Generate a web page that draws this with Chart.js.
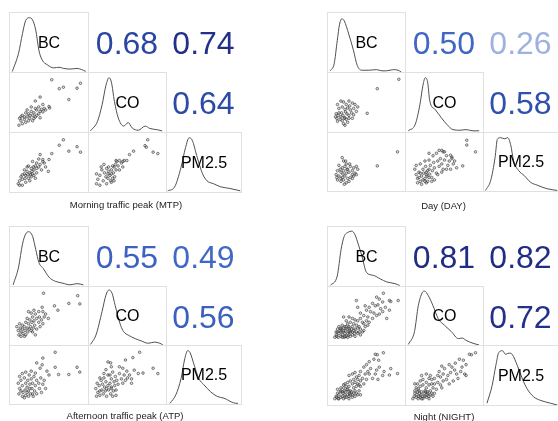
<!DOCTYPE html>
<html><head><meta charset="utf-8">
<script src="https://cdn.jsdelivr.net/npm/chart.js"></script>
<style>
html,body{margin:0;padding:0;background:#fff;width:558px;height:421px;overflow:hidden;font-family:"Liberation Sans",Arial,sans-serif;}
#root{position:relative;width:558px;height:421px;}
.cell{position:absolute;box-sizing:border-box;}
.box{border:1px solid #e0e0e0;}
.cell canvas{display:block;}
.lbl{position:absolute;left:0;top:0;width:100%;height:100%;display:flex;align-items:center;justify-content:center;font-size:16px;line-height:16px;color:#000;pointer-events:none;}
.corr{position:absolute;left:0;top:0;width:100%;height:100%;box-sizing:border-box;padding-top:2px;display:flex;align-items:center;justify-content:center;font-size:32px;line-height:32px;white-space:nowrap;}
.cap{position:absolute;width:220px;text-align:center;font-size:9.5px;line-height:9.5px;color:#222;white-space:nowrap;}
</style></head>
<body><div id="root"></div>
<script>
// ---------- data ----------
const variables = ['BC', 'CO', 'PM2.5'];
const captions = ['Morning traffic peak (MTP)', 'Day (DAY)', 'Afternoon traffic peak (ATP)', 'Night (NIGHT)'];

// correlations: [BC-CO, BC-PM2.5, CO-PM2.5]
const mtpCorr = [0.68, 0.74, 0.64];
const dayCorr = [0.50, 0.26, 0.58];
const atpCorr = [0.55, 0.49, 0.56];
const nightCorr = [0.81, 0.82, 0.72];

// density curves (x, y pairs, relative scale 0-100)
const mtpBcDens = [3,1, 11,32, 16,65, 20,87, 25,92, 29,88, 33,71, 37,37, 41,21, 48,12, 56,7, 63,8, 69,6, 77,5, 86,6, 92,4, 97,1];
const mtpCoDens = [2,2, 11,18, 17,46, 22,79, 26,92, 29,85, 33,52, 38,24, 45,10, 51,16, 56,7, 64,3, 73,10, 79,6, 88,4, 95,2];
const mtpPmDens = [1,2, 10,8, 19,42, 25,75, 30,92, 34,88, 41,58, 48,31, 54,19, 63,14, 72,9, 85,6, 99,2];
const dayBcDens = [3,2, 8,14, 12,53, 15,81, 18,90, 21,87, 27,64, 33,37, 38,11, 44,3, 53,3, 63,4, 70,2, 76,2, 85,4, 91,3, 95,0];
const dayCoDens = [3,2, 12,13, 18,46, 22,79, 25,92, 28,85, 31,52, 38,38, 46,24, 53,13, 61,4, 70,3, 78,4, 87,2, 95,2];
const dayPmDens = [2,1, 9,18, 15,58, 18,89, 22,92, 28,90, 32,92, 36,80, 40,52, 47,35, 54,27, 63,15, 72,10, 85,4, 99,1];
const atpBcDens = [4,2, 11,32, 16,71, 20,88, 24,92, 29,84, 33,62, 37,40, 43,29, 50,15, 58,8, 67,5, 77,2, 86,4, 94,2];
const atpCoDens = [2,1, 9,17, 17,58, 22,86, 26,95, 30,89, 34,68, 41,34, 45,23, 51,17, 60,11, 68,7, 77,3, 85,5, 92,3, 96,0];
const atpPmDens = [4,1, 12,16, 19,44, 24,78, 28,92, 31,89, 37,66, 43,44, 50,33, 59,21, 68,13, 77,10, 90,2, 96,1];
const nightBcDens = [3,1, 12,17, 17,62, 21,84, 26,91, 31,93, 35,87, 40,68, 44,51, 50,23, 59,18, 68,12, 76,7, 87,4, 93,1];
const nightCoDens = [3,1, 11,23, 16,68, 21,90, 24,93, 29,85, 35,68, 42,45, 50,34, 59,23, 68,11, 73,12, 78,8, 87,3, 95,0];
const nightPmDens = [4,3, 11,33, 16,67, 20,89, 25,92, 29,86, 34,88, 38,86, 45,67, 52,44, 58,28, 67,14, 76,8, 90,3, 99,0];

// scatter observations (x, y pairs, relative scale 0-100)
const mtpBcCo = [54,96, 65,78, 71,81, 91,79, 96,89, 79,56, 37,61, 30,53, 41,46, 50,42, 51,39,
 7,18, 9,13, 11,24, 14,16, 16,29, 18,21, 20,27, 22,18, 24,32, 26,24, 28,29, 30,21, 32,35, 35,27, 37,32, 39,36, 41,31, 43,38, 24,41, 20,13, 11,7, 6,4, 16,10, 28,18, 18,35, 22,24, 14,21, 9,21, 32,24, 37,19, 26,13, 45,35, 35,41, 30,38];
const mtpBcPm = [71,96, 65,85, 91,82, 79,73, 96,71, 54,68, 50,56, 37,66, 41,56,
 5,7, 7,13, 9,21, 11,16, 14,27, 16,24, 18,32, 20,18, 22,29, 24,38, 26,27, 28,35, 30,43, 32,29, 35,41, 37,46, 39,35, 41,52, 22,13, 16,10, 11,4, 24,21, 28,24, 18,41, 26,52, 32,49, 20,43, 14,35, 30,18, 7,4, 45,41, 49,32, 35,57, 43,49, 25,32, 19,25, 23,25, 27,41, 32,38, 15,18, 11,25];
const mtpCoPm = [80,96, 76,84, 78,81, 88,71, 95,68, 59,73, 53,66, 49,54, 43,52,
 4,7, 6,16, 9,24, 12,35, 14,13, 16,29, 18,21, 19,38, 21,27, 21,18, 22,32, 24,24, 25,13, 26,35, 26,27, 28,18, 29,29, 30,41, 31,21, 32,46, 33,35, 34,52, 36,43, 38,35, 41,49, 43,41, 45,54, 38,54, 15,46, 11,41, 4,27, 9,4, 19,7, 26,10, 30,13, 33,54, 22,41, 28,43];

const dayBcCo = [66,78, 51,28, 98,97,
 7,46, 12,53, 16,51, 20,46, 24,53, 29,49, 33,46, 9,38, 14,41, 18,36, 22,39, 26,35, 31,38, 35,32, 37,41, 5,27, 8,24, 12,21, 15,24, 18,19, 21,27, 24,24, 28,29, 31,25, 6,18, 11,16, 14,13, 17,18, 20,16, 24,18, 7,12, 18,4, 13,29, 25,43, 19,31, 4,21, 9,29, 22,10, 16,7, 29,18];
const dayBcPm = [96,71, 66,42, 14,59,
 16,52, 20,46, 9,43, 14,38, 18,41, 22,35, 26,41, 31,38, 35,41, 37,35, 7,32, 12,29, 16,32, 20,27, 24,29, 29,24, 33,27, 5,24, 9,21, 14,18, 18,21, 22,16, 26,18, 31,21, 7,13, 12,10, 16,13, 20,7, 24,10, 29,16, 35,24, 11,35, 25,46, 19,52, 6,18, 15,25, 21,35, 29,32, 17,4, 12,16];
const dayCoPm = [83,95, 83,85, 96,71, 77,42, 59,64, 61,60, 50,71, 46,74, 27,68,
 6,35, 8,24, 10,16, 12,29, 14,10, 16,21, 18,35, 19,27, 21,16, 22,41, 23,29, 24,21, 25,10, 27,35, 28,25, 29,43, 31,18, 32,32, 34,49, 35,38, 38,27, 40,52, 42,41, 44,57, 46,46, 48,35, 50,54, 53,63, 55,43, 57,52, 59,35, 61,57, 63,46, 65,52, 10,7, 16,4, 23,7, 31,10, 35,13, 40,24, 46,29, 8,43, 14,46, 21,52, 27,54, 33,63, 38,68, 42,74, 48,71, 53,35, 68,38, 12,18, 18,13, 23,24, 27,18, 14,27, 21,10, 25,32];

const atpBcCo = [42,97, 92,92, 79,76, 95,75, 58,71, 63,62, 40,68, 41,59,
 3,28, 5,20, 6,11, 8,25, 9,17, 11,31, 11,23, 12,14, 14,28, 15,20, 16,37, 16,11, 18,25, 19,17, 20,34, 21,23, 22,42, 23,28, 24,20, 25,37, 26,48, 27,25, 28,40, 29,31, 30,54, 32,45, 32,23, 35,37, 36,48, 37,28, 39,42, 41,34, 43,48, 45,54, 49,45, 20,59, 24,56, 28,62, 7,34, 9,8, 14,8, 18,45, 35,59, 26,17, 30,11];
const atpBcPm = [59,97, 41,85, 32,75, 40,71, 37,64, 47,58, 50,50, 59,66, 64,51, 79,51, 91,66, 95,56,
 5,33, 6,11, 7,22, 9,39, 11,6, 11,28, 12,14, 14,44, 15,19, 16,33, 16,8, 18,25, 19,39, 20,17, 21,50, 22,31, 23,11, 24,42, 25,22, 26,33, 27,6, 28,47, 29,17, 30,28, 32,39, 32,11, 35,33, 36,22, 38,44, 39,14, 41,31, 43,39, 45,22, 16,56, 11,53, 24,58, 9,17, 20,6, 14,3, 7,47, 30,54, 22,22, 18,14, 26,11];
const atpCoPm = [68,97, 58,86, 47,81, 21,77, 25,75, 26,67, 38,67, 43,64, 49,58, 60,60, 66,53, 73,54, 88,64, 95,53, 56,33, 56,42,
 3,22, 5,33, 6,14, 8,28, 9,8, 11,39, 12,19, 13,31, 14,11, 15,44, 16,25, 17,17, 18,36, 19,6, 21,28, 21,50, 22,19, 24,33, 25,11, 26,42, 26,25, 28,56, 29,17, 30,36, 31,28, 32,47, 33,8, 34,39, 36,31, 38,53, 41,42, 43,33, 45,50, 47,39, 50,44, 53,50, 9,44, 15,53, 18,61, 24,50, 28,6, 9,17, 19,22, 26,22, 33,19, 4,6];

const nightBcCo = [75,97, 65,89, 69,85, 74,79, 84,82, 86,80, 97,82, 59,76, 63,71, 67,73, 71,65, 78,68, 54,68, 50,62, 56,59, 61,56, 65,51, 41,56, 46,51, 52,48, 37,68, 35,82, 48,71, 80,45, 69,54, 74,59, 59,45, 84,62,
 24,48, 29,45, 33,42, 37,40, 41,45, 44,37, 46,34, 50,40, 54,37, 16,48, 20,40, 22,34, 26,37, 31,34, 35,31, 39,28, 41,23, 18,28, 14,31, 24,25, 29,28, 33,23, 37,25, 48,28, 52,31,
 3,6, 5,11, 6,8, 7,17, 8,6, 9,14, 11,20, 12,8, 12,23, 14,11, 15,17, 16,25, 17,6, 18,14, 19,20, 20,8, 21,23, 22,14, 24,28, 24,11, 25,20, 26,17, 28,23, 29,11, 29,17, 31,20, 32,14, 33,8, 35,17, 37,14, 39,17, 41,11, 7,23, 9,28, 12,17, 14,6, 5,17, 44,17, 46,20, 22,6, 26,8, 18,8, 24,17, 16,20, 12,25, 20,28];
const nightBcPm = [75,96, 63,93, 66,92, 61,83, 68,81, 54,78, 50,72, 86,64, 84,51, 96,54, 69,67, 63,53, 59,44, 74,50, 56,64, 46,67, 52,58, 41,58, 48,53, 39,50, 54,53, 44,44, 65,61, 76,58, 67,42,
 24,50, 29,53, 33,56, 35,47, 37,42, 31,42, 26,39, 22,36, 29,33, 33,36, 37,33, 41,39, 46,33, 50,42, 18,33, 20,28, 24,28, 31,25, 35,28, 39,31, 16,25, 22,22, 26,19, 33,19, 41,28,
 3,3, 5,8, 6,6, 7,14, 8,3, 9,11, 11,17, 12,6, 12,19, 14,8, 15,14, 16,3, 17,19, 18,11, 19,17, 20,6, 21,22, 22,11, 24,17, 24,8, 25,14, 26,11, 28,17, 29,6, 29,11, 31,14, 33,8, 35,14, 37,11, 7,22, 9,3, 12,25, 14,17, 18,6, 24,3, 41,11, 39,19, 16,31];
const nightCoPm = [96,96, 90,92, 87,93, 72,83, 78,81, 66,75, 82,72, 80,53, 82,50, 74,58, 65,61, 57,72, 50,64, 59,56, 70,44, 53,42, 61,67, 46,69, 42,58, 48,53, 55,50, 68,53, 63,39, 44,47, 76,67, 40,50, 35,44, 48,39, 57,33, 31,33,
 10,33, 14,39, 18,42, 23,36, 27,44, 31,42, 35,33, 40,36, 44,31, 14,28, 18,31, 23,25, 27,31, 33,25, 38,22, 46,25, 8,25, 12,19, 21,19, 25,17, 29,19, 16,50, 23,53, 29,50,
 3,3, 5,8, 6,14, 8,6, 9,11, 10,17, 11,3, 12,8, 13,14, 14,6, 15,11, 16,17, 18,8, 18,3, 20,14, 21,8, 22,17, 23,6, 24,11, 25,14, 27,8, 29,11, 31,14, 6,19, 11,23, 16,3, 27,3, 33,8, 35,14, 6,33];

// ---------- layout & style ----------
const layouts = [
  {cols:[9,88,166,241],   rows:[12,72,132,192],   capX:126,   capTop:199.5},
  {cols:[327,405,483,558],rows:[12,72,132,191],   capX:443.5, capTop:200.5},
  {cols:[9,88,166,241],   rows:[226,286,345,404], capX:125,   capTop:410.8},
  {cols:[327,405,483,558],rows:[226,286,345,405], capX:444,   capTop:412}
];
const panels = [
  {corr:mtpCorr,   dens:[mtpBcDens,mtpCoDens,mtpPmDens],       sc:{'1,0':mtpBcCo,'2,0':mtpBcPm,'2,1':mtpCoPm}},
  {corr:dayCorr,   dens:[dayBcDens,dayCoDens,dayPmDens],       sc:{'1,0':dayBcCo,'2,0':dayBcPm,'2,1':dayCoPm}},
  {corr:atpCorr,   dens:[atpBcDens,atpCoDens,atpPmDens],       sc:{'1,0':atpBcCo,'2,0':atpBcPm,'2,1':atpCoPm}},
  {corr:nightCorr, dens:[nightBcDens,nightCoDens,nightPmDens], sc:{'1,0':nightBcCo,'2,0':nightBcPm,'2,1':nightCoPm}}
];
const colorStops = [[0.26,[159,177,223]],[0.49,[65,104,198]],[0.56,[60,96,191]],[0.58,[48,80,173]],[0.68,[42,70,162]],[0.72,[36,49,138]],[0.82,[33,44,132]]];
function corrColor(v){
  if (v <= colorStops[0][0]) return 'rgb('+colorStops[0][1].join(',')+')';
  for (let i=1;i<colorStops.length;i++){
    if (v <= colorStops[i][0]){
      const a=colorStops[i-1], b=colorStops[i], t=(v-a[0])/(b[0]-a[0]);
      return 'rgb('+a[1].map((c,k)=>Math.round(c+(b[1][k]-c)*t)).join(',')+')';
    }
  }
  return 'rgb('+colorStops[colorStops.length-1][1].join(',')+')';
}
function pairs(a){const out=[];for(let i=0;i<a.length;i+=2)out.push({x:a[i],y:a[i+1]});return out;}

const root = document.getElementById('root');
function addCell(x0,x1,y0,y1,boxed){
  const d=document.createElement('div');
  d.className='cell'+(boxed?' box':'');
  d.style.left=x0+'px'; d.style.top=y0+'px';
  d.style.width=(x1-x0+(boxed?1:0))+'px'; d.style.height=(y1-y0+(boxed?1:0))+'px';
  root.appendChild(d); return d;
}
function addCanvas(cell,w,h){
  const c=document.createElement('canvas');
  c.width=w; c.height=h; c.style.width=w+'px'; c.style.height=h+'px';
  cell.appendChild(c); return c;
}
function makeChart(canvas,dataset){
  return new Chart(canvas,{
    type:'scatter',
    data:{datasets:[dataset]},
    options:{
      responsive:false, animation:false, events:[],
      layout:{padding:0},
      plugins:{legend:{display:false},tooltip:{enabled:false}},
      scales:{
        x:{type:'linear',min:0,max:100,display:false},
        y:{type:'linear',min:0,max:100,display:false}
      }
    }
  });
}

panels.forEach((p,pi)=>{
  const L=layouts[pi];
  for(let r=0;r<3;r++){
    for(let c=0;c<3;c++){
      const x0=L.cols[c], x1=L.cols[c+1], y0=L.rows[r], y1=L.rows[r+1];
      if(r===c){
        const cell=addCell(x0,x1,y0,y1,true);
        const cv=addCanvas(cell,x1-x0-1,y1-y0-1);
        makeChart(cv,{data:pairs(p.dens[r]),showLine:true,pointRadius:0,borderColor:'#505050',borderWidth:1,cubicInterpolationMode:'monotone',fill:false,clip:false});
        const lb=document.createElement('div'); lb.className='lbl'; lb.textContent=variables[r]; cell.appendChild(lb);
      } else if(r>c){
        const cell=addCell(x0,x1,y0,y1,true);
        const cv=addCanvas(cell,x1-x0-1,y1-y0-1);
        makeChart(cv,{data:pairs(p.sc[r+','+c]),pointRadius:1.3,pointBorderWidth:0.8,pointBorderColor:'rgba(40,40,40,0.7)',pointBackgroundColor:'rgba(140,140,140,0.3)',clip:false});
      } else {
        const cell=addCell(x0,x1,y0,y1,false);
        const idx=(r===0&&c===1)?0:(r===0&&c===2)?1:2;
        const v=p.corr[idx];
        const t=document.createElement('div'); t.className='corr'; t.textContent=v.toFixed(2); t.style.color=corrColor(v);
        cell.appendChild(t);
      }
    }
  }
  const cap=document.createElement('div'); cap.className='cap'; cap.textContent=captions[pi];
  cap.style.left=(L.capX-110)+'px'; cap.style.top=L.capTop+'px';
  root.appendChild(cap);
});
</script>
</body></html>
